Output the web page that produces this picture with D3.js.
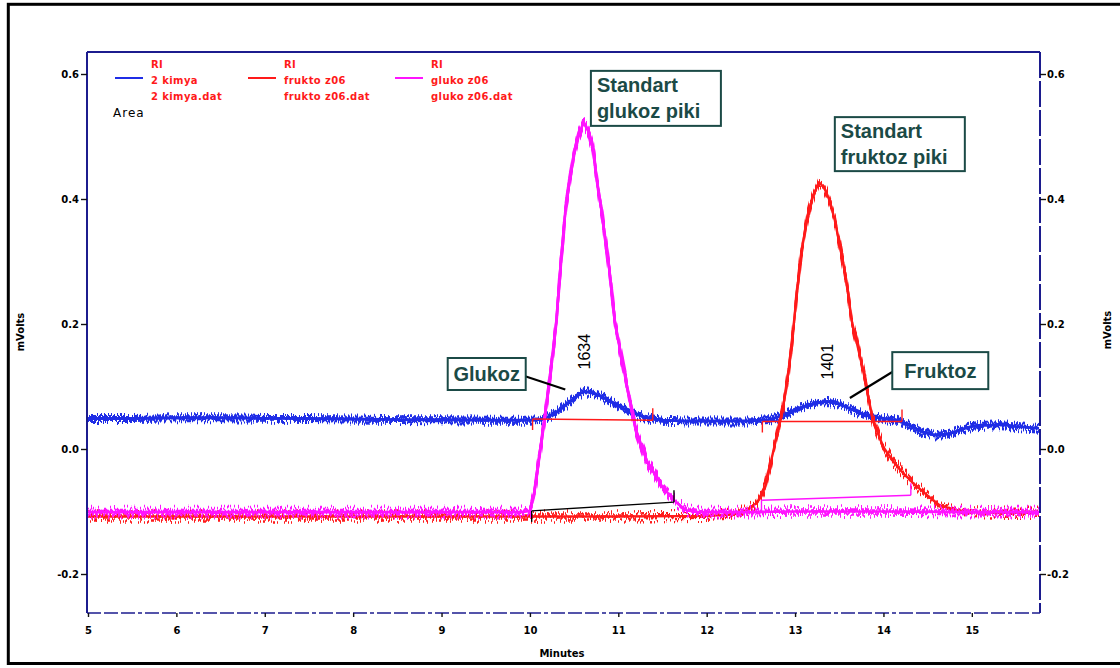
<!DOCTYPE html>
<html>
<head>
<meta charset="utf-8">
<script src="https://cdn.jsdelivr.net/npm/d3@7"></script>
<style>
  body { margin: 0; background: #fff; }
  svg { display: block; }
</style>
</head>
<body>
<svg id="chart" width="1120" height="668"></svg>
<script>
// ---- data ----------------------------------------------------------------
const minuteTicks = [5, 6, 7, 8, 9, 10, 11, 12, 13, 14, 15];
const mvTicks = [0.6, 0.4, 0.2, 0.0, -0.2];
const mvTickLabels = ["0.6", "0.4", "0.2", "0.0", "-0.2"];

const detector = "RI";
const seriesNames = ["2 kimya", "frukto z06", "gluko z06"];
const seriesFiles = ["2 kimya.dat", "frukto z06.dat", "gluko z06.dat"];
const seriesColors = ["#1f2de6", "#ff1a1a", "#ff14ff"];

// [minutes, mVolts]
const kimya = [
  [5.0, 0.049], [5.5, 0.049], [6.0, 0.050], [6.5, 0.050], [7.0, 0.049], [7.5, 0.049],
  [8.0, 0.048], [8.5, 0.047], [9.0, 0.047], [9.5, 0.046], [10.0, 0.046], [10.1, 0.047],
  [10.2, 0.051], [10.3, 0.059], [10.4, 0.070], [10.5, 0.081], [10.57, 0.089], [10.62, 0.092],
  [10.7, 0.090], [10.8, 0.085], [10.9, 0.077], [11.0, 0.069], [11.1, 0.062], [11.2, 0.056],
  [11.3, 0.051], [11.4, 0.048], [11.5, 0.046], [11.75, 0.045], [12.0, 0.045], [12.25, 0.045],
  [12.5, 0.045], [12.6, 0.046], [12.7, 0.047], [12.8, 0.051], [12.9, 0.056], [13.0, 0.062],
  [13.1, 0.068], [13.2, 0.072], [13.3, 0.075], [13.37, 0.076], [13.45, 0.074], [13.55, 0.069],
  [13.65, 0.063], [13.75, 0.057], [13.85, 0.052], [13.95, 0.050], [14.05, 0.048], [14.15, 0.046],
  [14.25, 0.041], [14.35, 0.034], [14.45, 0.027], [14.55, 0.023], [14.63, 0.022], [14.72, 0.024],
  [14.82, 0.028], [14.92, 0.033], [15.0, 0.036], [15.1, 0.038], [15.2, 0.038], [15.3, 0.039],
  [15.4, 0.038], [15.5, 0.036], [15.6, 0.035], [15.76, 0.033]
];

const frukto = [
  [5.0, -0.108], [6.0, -0.108], [7.0, -0.108], [8.0, -0.108], [9.0, -0.108], [10.0, -0.108],
  [11.0, -0.108], [12.0, -0.107], [12.3, -0.105], [12.45, -0.098], [12.57, -0.086], [12.66, -0.061],
  [12.75, -0.006], [12.86, 0.062], [12.93, 0.130], [12.99, 0.206], [13.02, 0.250], [13.07, 0.314],
  [13.14, 0.371], [13.2, 0.403], [13.27, 0.427], [13.33, 0.418], [13.39, 0.398], [13.45, 0.366],
  [13.5, 0.330], [13.58, 0.270], [13.64, 0.206], [13.77, 0.126], [13.88, 0.046], [14.0, 0.003],
  [14.1, -0.018], [14.2, -0.035], [14.33, -0.054], [14.52, -0.077], [14.63, -0.090], [14.83, -0.098],
  [15.0, -0.101], [15.4, -0.102], [15.76, -0.102]
];

const gluko = [
  [5.0, -0.101], [6.0, -0.101], [7.0, -0.101], [8.0, -0.101], [9.0, -0.101], [9.9, -0.101],
  [10.0, -0.099], [10.05, -0.070], [10.1, -0.020], [10.15, 0.030], [10.2, 0.085], [10.25, 0.145],
  [10.3, 0.206], [10.35, 0.300], [10.4, 0.380], [10.45, 0.432], [10.5, 0.475], [10.55, 0.503],
  [10.61, 0.523], [10.66, 0.510], [10.71, 0.483], [10.77, 0.419], [10.82, 0.371], [10.9, 0.285],
  [10.96, 0.206], [11.03, 0.150], [11.1, 0.099], [11.19, 0.035], [11.32, -0.018], [11.5, -0.061],
  [11.66, -0.086], [11.77, -0.098], [11.9, -0.101], [12.5, -0.101], [13.0, -0.100], [14.0, -0.100],
  [15.0, -0.101], [15.76, -0.101]
];

const seriesData = [kimya, frukto, gluko];

// integration baselines: [start, end] points and colour
const baselines = [
  { from: [10.03, 0.048], to: [11.39, 0.046], color: "#ff1a1a" },
  { from: [12.63, 0.044], to: [14.21, 0.044], color: "#ff1a1a" },
  { from: [10.02, -0.099], to: [11.63, -0.085], color: "#000000" },
  { from: [12.62, -0.082], to: [14.31, -0.074], color: "#ff14ff" }
];

// peak area labels, placed above the peaks of the sample trace
const peakAreas = [
  { label: "1634", t: 10.62, v: 0.092 },
  { label: "1401", t: 13.37, v: 0.076 }
];

// callout boxes (top-left corner in data units)
const callouts = [
  { lines: ["Standart", "glukoz piki"], t: 10.69, v: 0.605, w: 130, h: 55, align: "left" },
  { lines: ["Standart", "fruktoz piki"], t: 13.45, v: 0.531, w: 130, h: 54, align: "left" },
  { lines: ["Glukoz"], t: 9.07, v: 0.1456, w: 78, h: 32, align: "center",
    pointer: [[9.92, 0.1176], [10.40, 0.0952]] },
  { lines: ["Fruktoz"], t: 14.10, v: 0.155, w: 96, h: 37, align: "center",
    pointer: [[14.10, 0.1232], [13.62, 0.0816]] }
];

// ---- layout ----------------------------------------------------------------
const svg = d3.select("#chart");
const W = 1120, H = 668;
const plot = { left: 87, top: 52, right: 1040, bottom: 613 };
const navy = "#1c1c8e";
const teal = "#1b4a46";
const tickFont = "DejaVu Sans, Verdana, sans-serif";

const x = d3.scaleLinear().domain([5, 15.76]).range([88, 1039]);
const y = d3.scaleLinear().domain([-0.2624, 0.6352]).range([plot.bottom, plot.top]);

svg.append("rect").attr("width", W).attr("height", H).attr("fill", "#fff");

// outer frame (right side runs past the page edge)
svg.append("rect")
  .attr("x", 8.3).attr("y", 4.3).attr("width", 1200).attr("height", 659.2)
  .attr("fill", "none").attr("stroke", "#000").attr("stroke-width", 3);

const defs = svg.append("defs");
defs.append("clipPath").attr("id", "plotClip")
  .append("rect")
  .attr("x", plot.left + 1).attr("y", plot.top + 1)
  .attr("width", plot.right - plot.left - 2).attr("height", plot.bottom - plot.top - 2);

// detector noise: vertically jittered copies of each trace over its solid core
function noiseFilter(id, scale, seeds) {
  const f = defs.append("filter").attr("id", id)
    .attr("filterUnits", "userSpaceOnUse")
    .attr("x", 60).attr("y", 30).attr("width", 1010).attr("height", 620)
    .attr("color-interpolation-filters", "sRGB");
  seeds.forEach((s, k) => {
    f.append("feTurbulence").attr("type", "fractalNoise")
      .attr("baseFrequency", "0.7 0.01").attr("numOctaves", 1).attr("seed", s).attr("result", "n" + k);
    f.append("feColorMatrix").attr("in", "n" + k).attr("type", "matrix")
      .attr("values", "0 0 0 0 0.5  2.6 0 0 0 -0.8  0 0 0 0 0  0 0 0 0 1").attr("result", "m" + k);
    f.append("feDisplacementMap").attr("in", "SourceGraphic").attr("in2", "m" + k)
      .attr("scale", scale).attr("xChannelSelector", "R").attr("yChannelSelector", "G")
      .attr("result", "d" + k);
  });
  const merge = f.append("feMerge");
  merge.append("feMergeNode").attr("in", "SourceGraphic");
  seeds.forEach((s, k) => merge.append("feMergeNode").attr("in", "d" + k));
}
noiseFilter("noiseBlue", 9, [4, 11, 27]);
noiseFilter("noiseRed", 12, [9, 23]);
noiseFilter("noiseMag", 12, [17, 31, 45]);
const filters = ["url(#noiseBlue)", "url(#noiseRed)", "url(#noiseMag)"];
const widths = [3.0, 2.4, 2.6];

// ---- traces ----------------------------------------------------------------
const line = d3.line().x(d => x(d[0])).y(d => y(d[1]));
const traces = svg.append("g").attr("clip-path", "url(#plotClip)");
seriesData.forEach((data, i) => {
  traces.append("g").attr("filter", filters[i])
    .append("path")
    .datum(data)
    .attr("d", line)
    .attr("fill", "none")
    .attr("stroke", seriesColors[i])
    .attr("stroke-width", widths[i])
    .attr("stroke-linejoin", "round");
});

// integration baselines with drop ticks at each end
baselines.forEach(b => {
  const g = traces.append("g").attr("stroke", b.color).attr("stroke-width", 1.4).attr("fill", "none");
  const x1 = x(b.from[0]), y1 = y(b.from[1]), x2 = x(b.to[0]), y2 = y(b.to[1]);
  g.append("line").attr("x1", x1).attr("y1", y1).attr("x2", x2).attr("y2", y2);
  g.append("line").attr("x1", x1).attr("y1", y1).attr("x2", x1).attr("y2", y1 + 11);
  g.append("line").attr("x1", x2).attr("y1", y2).attr("x2", x2).attr("y2", y2 - 12);
});

// ---- frame & axes ------------------------------------------------------------
const frame = svg.append("g").attr("stroke", navy).attr("fill", "none");
frame.append("line").attr("x1", plot.left).attr("x2", plot.right).attr("y1", plot.top).attr("y2", plot.top).attr("stroke-width", 2);
frame.append("line").attr("x1", plot.left).attr("x2", plot.left).attr("y1", plot.top).attr("y2", plot.bottom).attr("stroke-width", 2);
frame.append("line").attr("x1", plot.right).attr("x2", plot.right).attr("y1", plot.top).attr("y2", plot.bottom)
  .attr("stroke-width", 2).attr("stroke-dasharray", "26,3");
frame.append("line").attr("x1", plot.left).attr("x2", plot.right).attr("y1", plot.bottom).attr("y2", plot.bottom)
  .attr("stroke-width", 1.6).attr("stroke-dasharray", "14,3,14,3,14,3,4,3");

function styleAxis(g) {
  g.select(".domain").remove();
  g.selectAll(".tick line").attr("stroke", "#111").attr("stroke-width", 1.4);
  g.selectAll(".tick text")
    .attr("fill", "#000")
    .style("font-family", tickFont)
    .style("font-weight", "bold")
    .style("font-size", "10px");
}

const fmtMv = v => mvTickLabels[mvTicks.indexOf(v)];

svg.append("g").attr("transform", `translate(${plot.left},0)`)
  .call(d3.axisLeft(y).tickValues(mvTicks).tickFormat(fmtMv).tickSize(6).tickPadding(2))
  .call(styleAxis);

svg.append("g").attr("transform", `translate(${plot.right},0)`)
  .call(d3.axisRight(y).tickValues(mvTicks).tickFormat(fmtMv).tickSize(6).tickPadding(1))
  .call(styleAxis);

svg.append("g").attr("transform", `translate(0,${plot.bottom})`)
  .call(d3.axisBottom(x).tickValues(minuteTicks).tickFormat(d3.format("d")).tickSize(4).tickPadding(10))
  .call(styleAxis);

// axis titles
svg.append("text")
  .attr("transform", `translate(24,332) rotate(-90)`)
  .attr("text-anchor", "middle")
  .style("font-family", tickFont).style("font-weight", "bold").style("font-size", "10px")
  .text("mVolts");
svg.append("text")
  .attr("transform", `translate(1111,330) rotate(-90)`)
  .attr("text-anchor", "middle")
  .style("font-family", tickFont).style("font-weight", "bold").style("font-size", "10px")
  .text("mVolts");
svg.append("text")
  .attr("x", 562).attr("y", 657)
  .attr("text-anchor", "middle")
  .style("font-family", tickFont).style("font-weight", "bold").style("font-size", "10px")
  .text("Minutes");

// ---- legend ------------------------------------------------------------------
const legendX = [115, 248, 395];
const legend = svg.append("g");
seriesNames.forEach((name, i) => {
  const g = legend.append("g").attr("transform", `translate(${legendX[i]},0)`);
  g.append("line").attr("x1", 0).attr("x2", 28).attr("y1", 78).attr("y2", 78)
    .attr("stroke", seriesColors[i]).attr("stroke-width", 2);
  const t = g.append("g")
    .style("font-family", tickFont).style("font-weight", "bold").style("font-size", "10px")
    .style("letter-spacing", "0.4px")
    .attr("fill", "#ff1a1a");
  t.append("text").attr("x", 36).attr("y", 68).text(detector);
  t.append("text").attr("x", 36).attr("y", 84).text(name);
  t.append("text").attr("x", 36).attr("y", 100).text(seriesFiles[i]);
});
legend.append("text").attr("x", 113).attr("y", 117)
  .style("font-family", tickFont).style("font-size", "12px").style("letter-spacing", "1px")
  .attr("fill", "#000").text("Area");

// ---- peak area labels -----------------------------------------------------------
peakAreas.forEach(p => {
  svg.append("text")
    .attr("transform", `translate(${x(p.t)},${y(p.v) - 22}) rotate(-90)`)
    .attr("dy", "0.35em")
    .attr("text-anchor", "start")
    .style("font-family", "Liberation Sans, Arial, sans-serif")
    .style("font-size", "16px")
    .attr("fill", "#000")
    .text(p.label);
});

// ---- callouts ---------------------------------------------------------------------
callouts.forEach(c => {
  const bx = x(c.t), by = y(c.v);
  if (c.pointer) {
    svg.append("line")
      .attr("x1", x(c.pointer[0][0])).attr("y1", y(c.pointer[0][1]))
      .attr("x2", x(c.pointer[1][0])).attr("y2", y(c.pointer[1][1]))
      .attr("stroke", "#000").attr("stroke-width", 2.2);
  }
  svg.append("rect")
    .attr("x", bx).attr("y", by).attr("width", c.w).attr("height", c.h)
    .attr("fill", "#fff").attr("stroke", teal).attr("stroke-width", 2);
  c.lines.forEach((ln, k) => {
    svg.append("text")
      .attr("x", c.align === "center" ? bx + c.w / 2 : bx + 6)
      .attr("y", c.lines.length > 1 ? by + 21 + k * 26 : by + c.h / 2 + 7)
      .attr("text-anchor", c.align === "center" ? "middle" : "start")
      .style("font-family", "Liberation Sans, Arial, sans-serif")
      .style("font-weight", "bold")
      .style("font-size", "20px")
      .attr("fill", teal)
      .text(ln);
  });
});
</script>
</body>
</html>
